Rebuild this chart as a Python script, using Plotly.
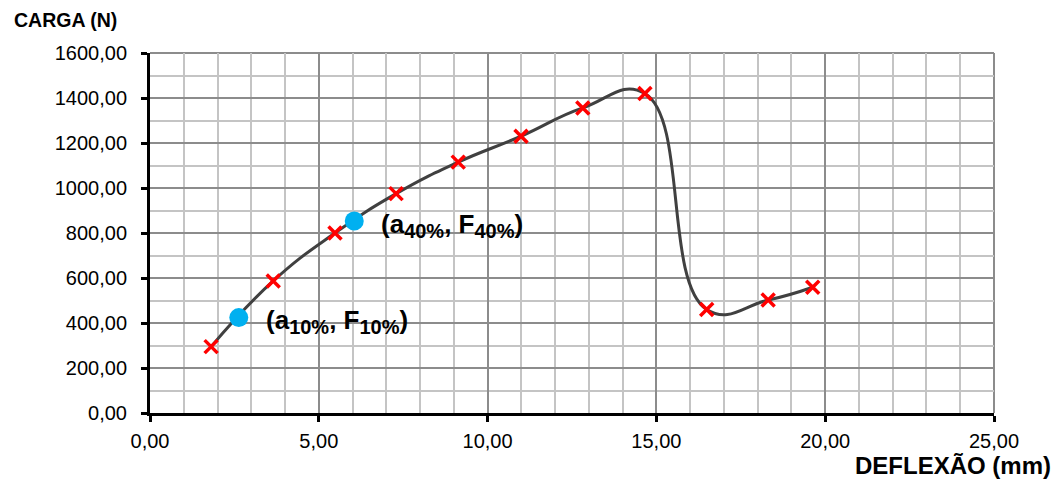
import plotly.graph_objects as go

# Load vs. deflection test readings
deflexao_mm = [1.81, 3.65, 5.48, 7.29, 9.13, 10.99, 12.82, 14.66, 16.49, 18.31, 19.63]
carga_n = [295, 587, 800, 975, 1115, 1230, 1356, 1420, 460, 502, 559]

# Reference points at 10% and 40% of the peak load
ref_a = [2.63, 6.05]
ref_f = [424, 853]
ref_tags = ["10%", "40%"]

x_ticks = [0, 5, 10, 15, 20, 25]
y_ticks = [0, 200, 400, 600, 800, 1000, 1200, 1400, 1600]

FONT = "Liberation Sans, Arial, sans-serif"


def sub(s):
    return f"<sub><span style='font-size:20px'>{s}</span></sub>"


fig = go.Figure()

# smoothed curve through the readings
fig.add_trace(go.Scatter(
    x=deflexao_mm, y=carga_n, mode="lines",
    line=dict(color="#404040", width=3, shape="spline", smoothing=1.3),
    hoverinfo="skip", showlegend=False,
))

# red cross markers at each reading
fig.add_trace(go.Scatter(
    x=deflexao_mm, y=carga_n, mode="markers",
    marker=dict(symbol="x-thin", size=13, line=dict(color="#FF0000", width=3.5)),
    showlegend=False,
))

# blue reference points
fig.add_trace(go.Scatter(
    x=ref_a, y=ref_f, mode="markers",
    marker=dict(symbol="circle", size=19, color="#00B0F0"),
    showlegend=False,
))

for a, f, tag in zip(ref_a, ref_f, ref_tags):
    fig.add_annotation(
        x=a, y=f, xref="x", yref="y",
        text=f"(a{sub(tag)}, F{sub(tag)})", showarrow=False,
        xanchor="left", yanchor="middle", xshift=25, yshift=-4,
        font=dict(family=FONT, size=26, color="#000000", weight="bold"),
    )

W, H = 1062, 479
ML, MR, MT, MB = 150, 68, 53, 66
pw, ph = W - ML - MR, H - MT - MB


def px(x, y):
    return (x - ML) / pw, (H - MB - y) / ph


tx, ty = px(12, 20)
fig.add_annotation(
    x=tx, y=ty, xref="paper", yref="paper", text="<b>CARGA (N)</b>",
    showarrow=False, xanchor="left", yanchor="middle",
    font=dict(family=FONT, size=19.5, color="#000000"),
)
tx, ty = px(1053, 465)
fig.add_annotation(
    x=tx, y=ty, xref="paper", yref="paper", text="<b>DEFLEXÃO (mm)</b>",
    showarrow=False, xanchor="right", yanchor="middle",
    font=dict(family=FONT, size=24, color="#000000"),
)

grid_major = "#8c8c8c"
grid_minor = "#c4c4c4"

fig.update_xaxes(
    range=[0, 25], tickvals=x_ticks, tickformat=".2f",
    showline=True, linecolor="#000000", linewidth=3,
    ticks="outside", ticklen=6, tickwidth=3, tickcolor="#000000",
    tickfont=dict(family=FONT, size=20, color="#000000"),
    ticklabelstandoff=2,
    showgrid=True, gridcolor=grid_major, gridwidth=2,
    minor=dict(dtick=1, showgrid=True, gridcolor=grid_minor, gridwidth=2, ticks=""),
    zeroline=False, fixedrange=True,
)
fig.update_yaxes(
    range=[0, 1600], tickvals=y_ticks, tickformat=".2f",
    showline=True, linecolor="#000000", linewidth=3,
    ticks="outside", ticklen=6, tickwidth=3, tickcolor="#000000",
    tickfont=dict(family=FONT, size=20, color="#000000"),
    ticklabelstandoff=10,
    showgrid=True, gridcolor=grid_major, gridwidth=2,
    minor=dict(dtick=100, showgrid=True, gridcolor=grid_minor, gridwidth=2, ticks=""),
    zeroline=False, fixedrange=True,
)

# grey frame on the top and right of the plot area
fig.add_shape(type="line", xref="paper", yref="paper", x0=0, x1=1, y0=1, y1=1,
              line=dict(color=grid_major, width=2), layer="below")
fig.add_shape(type="line", xref="paper", yref="paper", x0=1, x1=1, y0=0, y1=1,
              line=dict(color=grid_major, width=2), layer="below")

fig.update_layout(
    width=W, height=H,
    margin=dict(l=ML, r=MR, t=MT, b=MB, pad=0),
    paper_bgcolor="#ffffff", plot_bgcolor="#ffffff",
    separators=",.",
    font=dict(family=FONT, color="#000000"),
    showlegend=False,
)

fig.write_html("out.html", config={"displayModeBar": False})
